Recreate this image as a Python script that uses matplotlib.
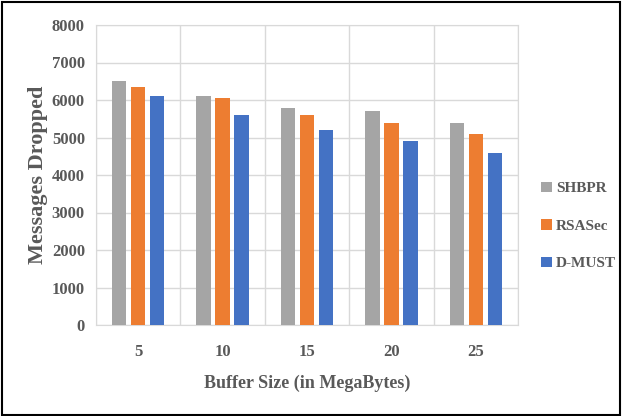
import numpy as np
import matplotlib
matplotlib.use("Agg")
import matplotlib.pyplot as plt
from matplotlib.patches import Rectangle

buffer_sizes = ["5", "10", "15", "20", "25"]
shbpr = [6500, 6100, 5800, 5700, 5400]
rsasec = [6350, 6050, 5600, 5400, 5100]
dmust = [6100, 5600, 5200, 4900, 4600]

series = [("SHBPR", shbpr, "#a5a5a5"),
          ("RSASec", rsasec, "#ed7d31"),
          ("D-MUST", dmust, "#4472c4")]

txt = "#595959"
plt.rcParams['font.family'] = ['Liberation Serif', 'DejaVu Serif']
plt.rcParams['font.weight'] = 'bold'

fig = plt.figure(figsize=(6.22, 4.16), dpi=100)
ax = fig.add_axes([96/622, 1-325/416, (518-96)/622, 300/416])

x = np.arange(len(buffer_sizes))
w = 0.17
step = 0.225
for i, (name, vals, col) in enumerate(series):
    ax.bar(x + (i-1)*step, vals, width=w, color=col, label=name, zorder=3)

ax.set_xlim(-0.5, 4.5)
ax.set_ylim(0, 8000)
ax.set_yticks(range(0, 8001, 1000))
ax.set_xticks(x)
ax.set_xticklabels(buffer_sizes)
ax.set_xticks(np.arange(-0.5, 4.51, 0.5), minor=True)
ax.grid(True, which='minor', axis='x', color='#d9d9d9', lw=1, zorder=0)
ax.grid(True, which='major', axis='y', color='#d9d9d9', lw=1, zorder=0)
for s in ax.spines.values():
    s.set_color('#d9d9d9')
ax.tick_params(axis='both', which='both', length=0, colors=txt, labelsize=12)
ax.tick_params(axis='x', pad=14)
ax.tick_params(axis='y', pad=8)

ax.set_ylabel("Messages Dropped", fontsize=16, color=txt, fontweight='bold', labelpad=3)
ax.set_xlabel("Buffer Size (in MegaBytes)", fontsize=13, color=txt, fontweight='bold', labelpad=10)

leg = ax.legend(loc='center left', bbox_to_anchor=(1.055, 0.33), frameon=False,
                borderpad=0, borderaxespad=0,
                handlelength=0.7, handleheight=0.7, handletextpad=0.25,
                labelspacing=1.55, fontsize=11)
for t in leg.get_texts():
    t.set_color(txt)

fig.patches.append(Rectangle((0.004, 0.003), 0.993, 0.993, transform=fig.transFigure,
                             fill=False, edgecolor='black', lw=1.5))

fig.savefig("out.png", dpi=100)
